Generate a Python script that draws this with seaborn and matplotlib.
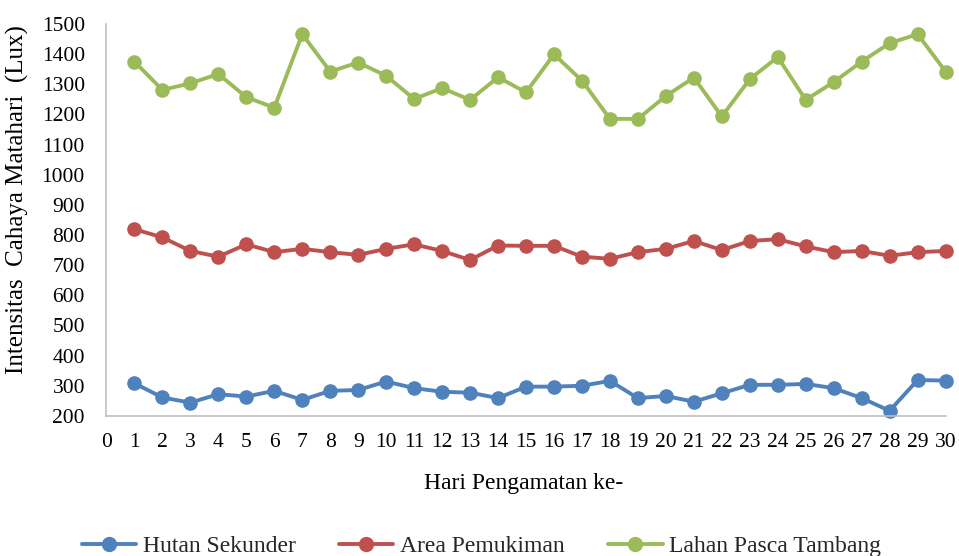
import matplotlib
matplotlib.use("Agg")
import matplotlib.pyplot as plt
from matplotlib.lines import Line2D
import seaborn as sns
import pandas as pd

days = list(range(1, 31))
hutan_sekunder = [308, 261, 244, 272, 264, 283, 253, 283, 286, 314,
                  292, 280, 277, 259, 297, 297, 300, 316, 259, 266,
                  247, 275, 303, 303, 306, 292, 259, 217, 319, 317]
area_pemukiman = [819, 792, 747, 728, 769, 743, 754, 743, 734, 754,
                  769, 747, 717, 765, 764, 764, 728, 721, 743, 754,
                  780, 750, 780, 786, 762, 743, 747, 731, 743, 747]
lahan_pasca_tambang = [1375, 1281, 1303, 1334, 1257, 1222, 1466, 1342, 1372, 1328,
                       1251, 1287, 1248, 1323, 1273, 1399, 1312, 1185, 1185, 1261,
                       1322, 1193, 1317, 1390, 1248, 1307, 1375, 1436, 1466, 1342]
series_names = ["Hutan Sekunder", "Area Pemukiman", "Lahan Pasca Tambang"]
colors = ["#4F81BD", "#C0504D", "#9BBB59"]
x_ticks = list(range(0, 31))
y_ticks = list(range(200, 1501, 100))

df = pd.DataFrame({
    "Hari": days * 3,
    "Nilai": hutan_sekunder + area_pemukiman + lahan_pasca_tambang,
    "Seri": [series_names[0]] * 30 + [series_names[1]] * 30 + [series_names[2]] * 30,
})

sns.set_theme(style="white")
plt.rcParams["font.family"] = ["Liberation Serif", "DejaVu Serif"]

fig = plt.figure(figsize=(9.59, 5.56), dpi=100)
ax = fig.add_axes([0.111, 0.252, 0.875, 0.705])

sns.lineplot(data=df, x="Hari", y="Nilai", hue="Seri", hue_order=series_names,
             palette=colors, marker="o", markersize=10.5, markeredgewidth=0,
             linewidth=2.8, dashes=False, ax=ax, legend=False)
for ln in ax.get_lines():
    ln.set_clip_on(False)

ax.set_xlim(0, 30)
ax.set_ylim(200, 1500)
ax.set_xticks(x_ticks)
ax.set_yticks(y_ticks)
ax.tick_params(axis="both", direction="inout", length=9, width=1.2,
               color="#BFBFBF", labelsize=15.5, labelcolor="black")
ax.tick_params(axis="y", pad=11)
ax.tick_params(axis="x", pad=8)
for side in ["top", "right"]:
    ax.spines[side].set_visible(False)
for side in ["left", "bottom"]:
    ax.spines[side].set_color("#BFBFBF")
    ax.spines[side].set_linewidth(1.2)

ax.set_xlabel("Hari Pengamatan ke-", fontsize=17, color="black")
ax.xaxis.set_label_coords(0.497, -0.145)
ax.set_ylabel("Intensitas  Cahaya Matahari  (Lux)", fontsize=18, color="black")
ax.yaxis.set_label_coords(-0.092, 0.553)

handles = [Line2D([0], [0], color=c, linewidth=2.8, marker="o", markersize=11,
                  markeredgewidth=0) for c in colors]
fig.legend(handles, series_names, loc="lower center", bbox_to_anchor=(0.502, -0.04),
           ncol=3, frameon=False, fontsize=17, handlelength=2.3,
           handletextpad=0.28, columnspacing=1.85)

fig.savefig("out.png", dpi=100)
